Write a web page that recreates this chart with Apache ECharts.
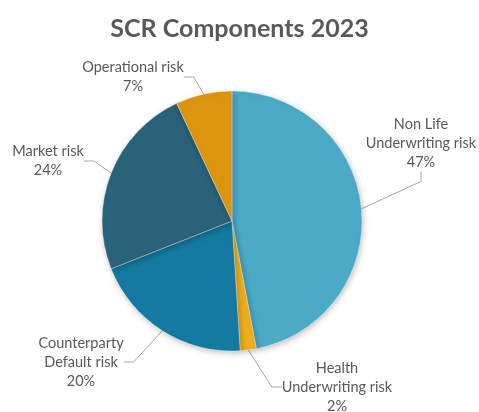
<!DOCTYPE html>
<html>
<head>
<meta charset="utf-8">
<script src="https://cdn.jsdelivr.net/npm/echarts@6/dist/echarts.min.js"></script>
<style>html,body{margin:0;padding:0;background:#fff;}#c{width:479px;height:412px;}</style>
</head>
<body>
<div id="c"></div>
<script>
const categories = ['Non Life\nUnderwriting risk', 'Health\nUnderwriting risk', 'Counterparty\nDefault risk', 'Market risk', 'Operational risk'];
const values = [47, 2, 20, 24, 7];
const colors = ['#4BAAC6', '#F0AE1C', '#147AA2', '#2A6379', '#DD950F'];
const labelSpots = [[421, 143], [337, 387], [81, 362], [48, 161], [133, 77]];

const chart = echarts.init(document.getElementById('c'), null, {renderer: 'canvas'});
chart.setOption({
  animation: false,
  title: {
    text: 'SCR Components 2023',
    left: 'center',
    top: 11,
    textStyle: {fontFamily: 'Lato', fontWeight: 'bold', fontSize: 25, color: '#595959'}
  },
  series: [{
    type: 'pie',
    center: [232, 221],
    radius: 130,
    startAngle: 90,
    clockwise: true,
    percentPrecision: 0,
    data: categories.map((c, i) => ({name: c, value: values[i], itemStyle: {color: colors[i]}})),
    itemStyle: {borderColor: 'rgba(255,255,255,0.35)', borderWidth: 1, shadowBlur: 6, shadowColor: 'rgba(0,0,0,0.25)', shadowOffsetX: 1, shadowOffsetY: 2},
    label: {
      show: true,
      formatter: '{b}\n{d}%',
      fontFamily: 'Lato',
      fontSize: 14.5,
      lineHeight: 19,
      color: '#595959',
      align: 'center',
      overflow: 'none'
    },
    labelLine: {show: true, length: 10, length2: 10, lineStyle: {color: '#A6A6A6', width: 1}},
    labelLayout: function (p) {
      const s = labelSpots[p.dataIndex];
      return {x: s[0], y: s[1], align: 'center', verticalAlign: 'middle'};
    }
  }]
});
</script>
</body>
</html>
